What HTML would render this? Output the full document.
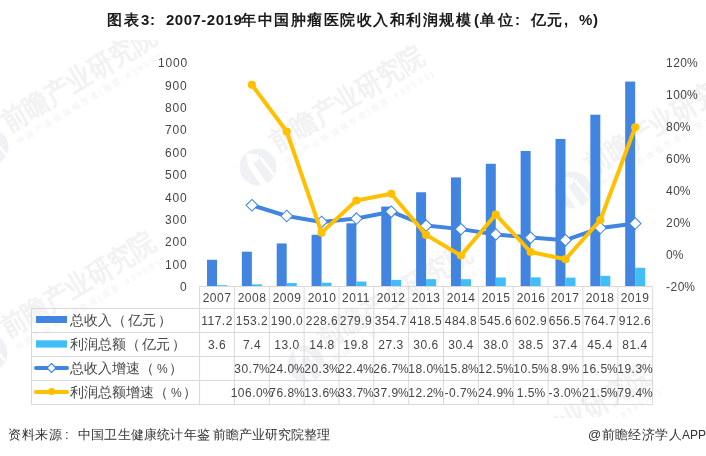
<!DOCTYPE html><html><head><meta charset="utf-8"><style>
html,body{margin:0;padding:0;background:#fff;}
body{width:706px;height:456px;position:relative;overflow:hidden;font-family:"Liberation Sans",sans-serif;}
.t{position:absolute;white-space:nowrap;line-height:1;will-change:transform;}
.n{font-size:12px;color:#454545;letter-spacing:0.5px;}
.p{letter-spacing:0;margin-left:-0.5px;}
.ti{position:absolute;white-space:nowrap;line-height:1;will-change:transform;top:12px;font-size:15px;color:#1a1a1a;}
.b{font-weight:bold;}
.wm{position:absolute;left:0;top:40px;width:706px;height:378px;overflow:hidden;}
.wt{position:absolute;white-space:nowrap;line-height:1;font-weight:bold;font-size:28px;letter-spacing:0.4px;color:#f2f2f2;transform-origin:0 0;}
.ws{position:absolute;white-space:nowrap;line-height:1;font-size:8px;letter-spacing:2.6px;color:#f2f2f2;transform-origin:0 0;}
</style></head><body>
<div class="wm"><div class="wt" style="left:-3.5px;top:71.6px;transform:rotate(-31deg) scaleX(0.88)">前瞻产业研究院</div><div class="ws" style="left:16.3px;top:98.8px;transform:rotate(-31deg)">中国产业咨询领导者(股票:839599)</div><svg style="position:absolute;left:-30.5px;top:86.5px" width="40" height="40"><circle cx="20" cy="20" r="18.5" fill="#eff1f5"/><path d="M22 10L36 28" stroke="#fff" stroke-width="2.5"/><path d="M8 6L21 8L20 13L15 16L34 44L27 44L11 21L9 13Z" fill="#fff"/></svg><div class="wt" style="left:264.5px;top:91.6px;transform:rotate(-31deg) scaleX(0.88)">前瞻产业研究院</div><div class="ws" style="left:284.3px;top:118.8px;transform:rotate(-31deg)">中国产业咨询领导者(股票:839599)</div><svg style="position:absolute;left:237.5px;top:106.5px" width="40" height="40"><circle cx="20" cy="20" r="18.5" fill="#eff1f5"/><path d="M22 10L36 28" stroke="#fff" stroke-width="2.5"/><path d="M8 6L21 8L20 13L15 16L34 44L27 44L11 21L9 13Z" fill="#fff"/></svg><div class="wt" style="left:579.5px;top:114.6px;transform:rotate(-31deg) scaleX(0.88)">前瞻产业研究院</div><div class="ws" style="left:599.3px;top:141.8px;transform:rotate(-31deg)">中国产业咨询领导者(股票:839599)</div><svg style="position:absolute;left:552.5px;top:129.5px" width="40" height="40"><circle cx="20" cy="20" r="18.5" fill="#eff1f5"/><path d="M22 10L36 28" stroke="#fff" stroke-width="2.5"/><path d="M8 6L21 8L20 13L15 16L34 44L27 44L11 21L9 13Z" fill="#fff"/></svg><div class="wt" style="left:-4.5px;top:277.6px;transform:rotate(-31deg) scaleX(0.88)">前瞻产业研究院</div><div class="ws" style="left:15.3px;top:304.8px;transform:rotate(-31deg)">中国产业咨询领导者(股票:839599)</div><svg style="position:absolute;left:-31.5px;top:292.5px" width="40" height="40"><circle cx="20" cy="20" r="18.5" fill="#eff1f5"/><path d="M22 10L36 28" stroke="#fff" stroke-width="2.5"/><path d="M8 6L21 8L20 13L15 16L34 44L27 44L11 21L9 13Z" fill="#fff"/></svg><div class="wt" style="left:312.5px;top:288.6px;transform:rotate(-31deg) scaleX(0.88)">前瞻产业研究院</div><div class="ws" style="left:332.3px;top:315.8px;transform:rotate(-31deg)">中国产业咨询领导者(股票:839599)</div><svg style="position:absolute;left:285.5px;top:303.5px" width="40" height="40"><circle cx="20" cy="20" r="18.5" fill="#eff1f5"/><path d="M22 10L36 28" stroke="#fff" stroke-width="2.5"/><path d="M8 6L21 8L20 13L15 16L34 44L27 44L11 21L9 13Z" fill="#fff"/></svg><div class="wt" style="left:491.5px;top:410.6px;transform:rotate(-31deg) scaleX(0.88)">前瞻产业研究院</div><div class="ws" style="left:511.3px;top:437.8px;transform:rotate(-31deg)">中国产业咨询领导者(股票:839599)</div><svg style="position:absolute;left:464.5px;top:425.5px" width="40" height="40"><circle cx="20" cy="20" r="18.5" fill="#eff1f5"/><path d="M22 10L36 28" stroke="#fff" stroke-width="2.5"/><path d="M8 6L21 8L20 13L15 16L34 44L27 44L11 21L9 13Z" fill="#fff"/></svg></div>
<div class="ti b" style="left:106.7px;letter-spacing:1.5px;">图表</div>
<div class="ti b" style="left:141.2px;">3</div>
<div class="ti b" style="left:149.8px;">:</div>
<div class="ti b" style="left:165.6px;letter-spacing:0.5px;">2007-2019</div>
<div class="ti b" style="left:241.0px;letter-spacing:1.5px;">年中国肿瘤医院收入和利润规模</div>
<div class="ti b" style="left:473.6px;">(</div>
<div class="ti b" style="left:479.6px;letter-spacing:3px;">单位</div>
<div class="ti b" style="left:514.8px;">:</div>
<div class="ti b" style="left:531.2px;letter-spacing:1px;">亿元</div>
<div class="ti b" style="left:564.3px;">,</div>
<div class="ti b" style="left:579.3px;">%</div>
<div class="ti b" style="left:592.9px;">)</div>
<svg width="706" height="456" style="position:absolute;left:0;top:0">
<rect x="207.02" y="259.75" width="10" height="26.25" fill="#4285e0"/>
<rect x="217.02" y="285.19" width="10" height="0.81" fill="#41bdf8"/>
<rect x="241.87" y="251.68" width="10" height="34.32" fill="#4285e0"/>
<rect x="251.87" y="284.34" width="10" height="1.66" fill="#41bdf8"/>
<rect x="276.72" y="243.44" width="10" height="42.56" fill="#4285e0"/>
<rect x="286.72" y="283.09" width="10" height="2.91" fill="#41bdf8"/>
<rect x="311.56" y="234.79" width="10" height="51.21" fill="#4285e0"/>
<rect x="321.56" y="282.68" width="10" height="3.32" fill="#41bdf8"/>
<rect x="346.41" y="223.30" width="10" height="62.70" fill="#4285e0"/>
<rect x="356.41" y="281.56" width="10" height="4.44" fill="#41bdf8"/>
<rect x="381.25" y="206.55" width="10" height="79.45" fill="#4285e0"/>
<rect x="391.25" y="279.88" width="10" height="6.12" fill="#41bdf8"/>
<rect x="416.10" y="192.26" width="10" height="93.74" fill="#4285e0"/>
<rect x="426.10" y="279.15" width="10" height="6.85" fill="#41bdf8"/>
<rect x="450.95" y="177.40" width="10" height="108.60" fill="#4285e0"/>
<rect x="460.95" y="279.19" width="10" height="6.81" fill="#41bdf8"/>
<rect x="485.79" y="163.79" width="10" height="122.21" fill="#4285e0"/>
<rect x="495.79" y="277.49" width="10" height="8.51" fill="#41bdf8"/>
<rect x="520.64" y="150.95" width="10" height="135.05" fill="#4285e0"/>
<rect x="530.64" y="277.38" width="10" height="8.62" fill="#41bdf8"/>
<rect x="555.48" y="138.94" width="10" height="147.06" fill="#4285e0"/>
<rect x="565.48" y="277.62" width="10" height="8.38" fill="#41bdf8"/>
<rect x="590.33" y="114.71" width="10" height="171.29" fill="#4285e0"/>
<rect x="600.33" y="275.83" width="10" height="10.17" fill="#41bdf8"/>
<rect x="625.18" y="81.58" width="10" height="204.42" fill="#4285e0"/>
<rect x="635.18" y="267.77" width="10" height="18.23" fill="#41bdf8"/>
<polyline points="251.87,205.28 286.72,216.00 321.56,221.92 356.41,218.56 391.25,211.68 426.10,225.60 460.95,229.12 495.79,234.40 530.64,237.60 565.48,240.16 600.33,228.00 635.18,223.52" fill="none" stroke="#4285e0" stroke-width="4" stroke-linejoin="round" stroke-linecap="round"/>
<path d="M251.87 199.48L257.67 205.28L251.87 211.08L246.07 205.28Z" fill="#fff" stroke="#4285e0" stroke-width="1.05"/>
<path d="M286.72 210.20L292.52 216.00L286.72 221.80L280.92 216.00Z" fill="#fff" stroke="#4285e0" stroke-width="1.05"/>
<path d="M321.56 216.12L327.36 221.92L321.56 227.72L315.76 221.92Z" fill="#fff" stroke="#4285e0" stroke-width="1.05"/>
<path d="M356.41 212.76L362.21 218.56L356.41 224.36L350.61 218.56Z" fill="#fff" stroke="#4285e0" stroke-width="1.05"/>
<path d="M391.25 205.88L397.05 211.68L391.25 217.48L385.45 211.68Z" fill="#fff" stroke="#4285e0" stroke-width="1.05"/>
<path d="M426.10 219.80L431.90 225.60L426.10 231.40L420.30 225.60Z" fill="#fff" stroke="#4285e0" stroke-width="1.05"/>
<path d="M460.95 223.32L466.75 229.12L460.95 234.92L455.15 229.12Z" fill="#fff" stroke="#4285e0" stroke-width="1.05"/>
<path d="M495.79 228.60L501.59 234.40L495.79 240.20L489.99 234.40Z" fill="#fff" stroke="#4285e0" stroke-width="1.05"/>
<path d="M530.64 231.80L536.44 237.60L530.64 243.40L524.84 237.60Z" fill="#fff" stroke="#4285e0" stroke-width="1.05"/>
<path d="M565.48 234.36L571.28 240.16L565.48 245.96L559.68 240.16Z" fill="#fff" stroke="#4285e0" stroke-width="1.05"/>
<path d="M600.33 222.20L606.13 228.00L600.33 233.80L594.53 228.00Z" fill="#fff" stroke="#4285e0" stroke-width="1.05"/>
<path d="M635.18 217.72L640.98 223.52L635.18 229.32L629.38 223.52Z" fill="#fff" stroke="#4285e0" stroke-width="1.05"/>
<polyline points="251.87,84.80 286.72,131.52 321.56,232.64 356.41,200.48 391.25,193.76 426.10,234.88 460.95,255.52 495.79,214.56 530.64,252.00 565.48,259.20 600.33,220.00 635.18,127.36" fill="none" stroke="#ffc000" stroke-width="4" stroke-linejoin="round" stroke-linecap="round"/>
<circle cx="251.87" cy="84.80" r="4.1" fill="#ffc000"/>
<circle cx="286.72" cy="131.52" r="4.1" fill="#ffc000"/>
<circle cx="321.56" cy="232.64" r="4.1" fill="#ffc000"/>
<circle cx="356.41" cy="200.48" r="4.1" fill="#ffc000"/>
<circle cx="391.25" cy="193.76" r="4.1" fill="#ffc000"/>
<circle cx="426.10" cy="234.88" r="4.1" fill="#ffc000"/>
<circle cx="460.95" cy="255.52" r="4.1" fill="#ffc000"/>
<circle cx="495.79" cy="214.56" r="4.1" fill="#ffc000"/>
<circle cx="530.64" cy="252.00" r="4.1" fill="#ffc000"/>
<circle cx="565.48" cy="259.20" r="4.1" fill="#ffc000"/>
<circle cx="600.33" cy="220.00" r="4.1" fill="#ffc000"/>
<circle cx="635.18" cy="127.36" r="4.1" fill="#ffc000"/>
<path d="M199.6 286.5H652.6" stroke="#d9d9d9" stroke-width="1"/>
<path d="M31.5 308.5H652.6" stroke="#d9d9d9" stroke-width="1"/>
<path d="M31.5 332.5H652.6" stroke="#d9d9d9" stroke-width="1"/>
<path d="M31.5 356.5H652.6" stroke="#d9d9d9" stroke-width="1"/>
<path d="M31.5 380.5H652.6" stroke="#d9d9d9" stroke-width="1"/>
<path d="M31.5 404.5H652.6" stroke="#d9d9d9" stroke-width="1"/>
<path d="M31.5 308.5V404.5" stroke="#d9d9d9" stroke-width="1"/>
<path d="M199.6 286.5V404.5" stroke="#d9d9d9" stroke-width="1"/>
<path d="M234.4 286.5V404.5" stroke="#d9d9d9" stroke-width="1"/>
<path d="M269.3 286.5V404.5" stroke="#d9d9d9" stroke-width="1"/>
<path d="M304.1 286.5V404.5" stroke="#d9d9d9" stroke-width="1"/>
<path d="M339.0 286.5V404.5" stroke="#d9d9d9" stroke-width="1"/>
<path d="M373.8 286.5V404.5" stroke="#d9d9d9" stroke-width="1"/>
<path d="M408.7 286.5V404.5" stroke="#d9d9d9" stroke-width="1"/>
<path d="M443.5 286.5V404.5" stroke="#d9d9d9" stroke-width="1"/>
<path d="M478.4 286.5V404.5" stroke="#d9d9d9" stroke-width="1"/>
<path d="M513.2 286.5V404.5" stroke="#d9d9d9" stroke-width="1"/>
<path d="M548.1 286.5V404.5" stroke="#d9d9d9" stroke-width="1"/>
<path d="M582.9 286.5V404.5" stroke="#d9d9d9" stroke-width="1"/>
<path d="M617.8 286.5V404.5" stroke="#d9d9d9" stroke-width="1"/>
<path d="M652.6 286.5V404.5" stroke="#d9d9d9" stroke-width="1"/>
<rect x="36" y="316" width="31" height="7" fill="#4285e0"/>
<rect x="36" y="340.3" width="31" height="7.3" fill="#41bdf8"/>
<path d="M36 368H67" stroke="#4285e0" stroke-width="4" stroke-linecap="round"/>
<path d="M51.5 363.5L56 368L51.5 372.5L47 368Z" fill="#fff" stroke="#4285e0" stroke-width="1.2"/>
<path d="M36 392H67" stroke="#ffc000" stroke-width="4" stroke-linecap="round"/>
<circle cx="51.5" cy="391.5" r="3.6" fill="#ffc000"/>
</svg>
<div class="t n" style="right:518.5px;top:281.2px;letter-spacing:0.8px;">0</div>
<div class="t n" style="right:518.5px;top:258.8px;letter-spacing:0.8px;">100</div>
<div class="t n" style="right:518.5px;top:236.4px;letter-spacing:0.8px;">200</div>
<div class="t n" style="right:518.5px;top:214.0px;letter-spacing:0.8px;">300</div>
<div class="t n" style="right:518.5px;top:191.6px;letter-spacing:0.8px;">400</div>
<div class="t n" style="right:518.5px;top:169.2px;letter-spacing:0.8px;">500</div>
<div class="t n" style="right:518.5px;top:146.8px;letter-spacing:0.8px;">600</div>
<div class="t n" style="right:518.5px;top:124.4px;letter-spacing:0.8px;">700</div>
<div class="t n" style="right:518.5px;top:102.0px;letter-spacing:0.8px;">800</div>
<div class="t n" style="right:518.5px;top:79.6px;letter-spacing:0.8px;">900</div>
<div class="t n" style="right:518.5px;top:57.2px;letter-spacing:0.8px;">1000</div>
<div class="t n" style="left:666px;top:280.6px;">-20<span class="p">%</span></div>
<div class="t n" style="left:666px;top:248.6px;">0<span class="p">%</span></div>
<div class="t n" style="left:666px;top:216.6px;">20<span class="p">%</span></div>
<div class="t n" style="left:666px;top:184.6px;">40<span class="p">%</span></div>
<div class="t n" style="left:666px;top:152.6px;">60<span class="p">%</span></div>
<div class="t n" style="left:666px;top:120.6px;">80<span class="p">%</span></div>
<div class="t n" style="left:666px;top:88.6px;">100<span class="p">%</span></div>
<div class="t n" style="left:666px;top:56.6px;">120<span class="p">%</span></div>
<div class="t n" style="left:192.02px;width:50px;text-align:center;top:291.7px;">2007</div>
<div class="t n" style="left:192.02px;width:50px;text-align:center;top:314.7px;">117.2</div>
<div class="t n" style="left:192.02px;width:50px;text-align:center;top:338.7px;">3.6</div>
<div class="t n" style="left:226.87px;width:50px;text-align:center;top:291.7px;">2008</div>
<div class="t n" style="left:226.87px;width:50px;text-align:center;top:314.7px;">153.2</div>
<div class="t n" style="left:226.87px;width:50px;text-align:center;top:338.7px;">7.4</div>
<div class="t n" style="left:226.87px;width:50px;text-align:center;top:362.7px;">30.7<span class="p">%</span></div>
<div class="t n" style="left:226.87px;width:50px;text-align:center;top:386.7px;">106.0<span class="p">%</span></div>
<div class="t n" style="left:261.72px;width:50px;text-align:center;top:291.7px;">2009</div>
<div class="t n" style="left:261.72px;width:50px;text-align:center;top:314.7px;">190.0</div>
<div class="t n" style="left:261.72px;width:50px;text-align:center;top:338.7px;">13.0</div>
<div class="t n" style="left:261.72px;width:50px;text-align:center;top:362.7px;">24.0<span class="p">%</span></div>
<div class="t n" style="left:261.72px;width:50px;text-align:center;top:386.7px;">76.8<span class="p">%</span></div>
<div class="t n" style="left:296.56px;width:50px;text-align:center;top:291.7px;">2010</div>
<div class="t n" style="left:296.56px;width:50px;text-align:center;top:314.7px;">228.6</div>
<div class="t n" style="left:296.56px;width:50px;text-align:center;top:338.7px;">14.8</div>
<div class="t n" style="left:296.56px;width:50px;text-align:center;top:362.7px;">20.3<span class="p">%</span></div>
<div class="t n" style="left:296.56px;width:50px;text-align:center;top:386.7px;">13.6<span class="p">%</span></div>
<div class="t n" style="left:331.41px;width:50px;text-align:center;top:291.7px;">2011</div>
<div class="t n" style="left:331.41px;width:50px;text-align:center;top:314.7px;">279.9</div>
<div class="t n" style="left:331.41px;width:50px;text-align:center;top:338.7px;">19.8</div>
<div class="t n" style="left:331.41px;width:50px;text-align:center;top:362.7px;">22.4<span class="p">%</span></div>
<div class="t n" style="left:331.41px;width:50px;text-align:center;top:386.7px;">33.7<span class="p">%</span></div>
<div class="t n" style="left:366.25px;width:50px;text-align:center;top:291.7px;">2012</div>
<div class="t n" style="left:366.25px;width:50px;text-align:center;top:314.7px;">354.7</div>
<div class="t n" style="left:366.25px;width:50px;text-align:center;top:338.7px;">27.3</div>
<div class="t n" style="left:366.25px;width:50px;text-align:center;top:362.7px;">26.7<span class="p">%</span></div>
<div class="t n" style="left:366.25px;width:50px;text-align:center;top:386.7px;">37.9<span class="p">%</span></div>
<div class="t n" style="left:401.10px;width:50px;text-align:center;top:291.7px;">2013</div>
<div class="t n" style="left:401.10px;width:50px;text-align:center;top:314.7px;">418.5</div>
<div class="t n" style="left:401.10px;width:50px;text-align:center;top:338.7px;">30.6</div>
<div class="t n" style="left:401.10px;width:50px;text-align:center;top:362.7px;">18.0<span class="p">%</span></div>
<div class="t n" style="left:401.10px;width:50px;text-align:center;top:386.7px;">12.2<span class="p">%</span></div>
<div class="t n" style="left:435.95px;width:50px;text-align:center;top:291.7px;">2014</div>
<div class="t n" style="left:435.95px;width:50px;text-align:center;top:314.7px;">484.8</div>
<div class="t n" style="left:435.95px;width:50px;text-align:center;top:338.7px;">30.4</div>
<div class="t n" style="left:435.95px;width:50px;text-align:center;top:362.7px;">15.8<span class="p">%</span></div>
<div class="t n" style="left:435.95px;width:50px;text-align:center;top:386.7px;">-0.7<span class="p">%</span></div>
<div class="t n" style="left:470.79px;width:50px;text-align:center;top:291.7px;">2015</div>
<div class="t n" style="left:470.79px;width:50px;text-align:center;top:314.7px;">545.6</div>
<div class="t n" style="left:470.79px;width:50px;text-align:center;top:338.7px;">38.0</div>
<div class="t n" style="left:470.79px;width:50px;text-align:center;top:362.7px;">12.5<span class="p">%</span></div>
<div class="t n" style="left:470.79px;width:50px;text-align:center;top:386.7px;">24.9<span class="p">%</span></div>
<div class="t n" style="left:505.64px;width:50px;text-align:center;top:291.7px;">2016</div>
<div class="t n" style="left:505.64px;width:50px;text-align:center;top:314.7px;">602.9</div>
<div class="t n" style="left:505.64px;width:50px;text-align:center;top:338.7px;">38.5</div>
<div class="t n" style="left:505.64px;width:50px;text-align:center;top:362.7px;">10.5<span class="p">%</span></div>
<div class="t n" style="left:505.64px;width:50px;text-align:center;top:386.7px;">1.5<span class="p">%</span></div>
<div class="t n" style="left:540.48px;width:50px;text-align:center;top:291.7px;">2017</div>
<div class="t n" style="left:540.48px;width:50px;text-align:center;top:314.7px;">656.5</div>
<div class="t n" style="left:540.48px;width:50px;text-align:center;top:338.7px;">37.4</div>
<div class="t n" style="left:540.48px;width:50px;text-align:center;top:362.7px;">8.9<span class="p">%</span></div>
<div class="t n" style="left:540.48px;width:50px;text-align:center;top:386.7px;">-3.0<span class="p">%</span></div>
<div class="t n" style="left:575.33px;width:50px;text-align:center;top:291.7px;">2018</div>
<div class="t n" style="left:575.33px;width:50px;text-align:center;top:314.7px;">764.7</div>
<div class="t n" style="left:575.33px;width:50px;text-align:center;top:338.7px;">45.4</div>
<div class="t n" style="left:575.33px;width:50px;text-align:center;top:362.7px;">16.5<span class="p">%</span></div>
<div class="t n" style="left:575.33px;width:50px;text-align:center;top:386.7px;">21.5<span class="p">%</span></div>
<div class="t n" style="left:610.18px;width:50px;text-align:center;top:291.7px;">2019</div>
<div class="t n" style="left:610.18px;width:50px;text-align:center;top:314.7px;">912.6</div>
<div class="t n" style="left:610.18px;width:50px;text-align:center;top:338.7px;">81.4</div>
<div class="t n" style="left:610.18px;width:50px;text-align:center;top:362.7px;">19.3<span class="p">%</span></div>
<div class="t n" style="left:610.18px;width:50px;text-align:center;top:386.7px;">79.4<span class="p">%</span></div>
<div class="t" style="left:69.5px;top:313.3px;font-size:14px;color:#454545;">总收入<span style="margin-right:1.5px">（</span>亿元<span style="margin-left:2px">）</span></div>
<div class="t" style="left:69.5px;top:337.3px;font-size:14px;color:#454545;">利润总额<span style="margin-right:1.5px">（</span>亿元<span style="margin-left:2px">）</span></div>
<div class="t" style="left:69.5px;top:361.3px;font-size:14px;color:#454545;">总收入增速<span style="margin-right:1.5px">（</span><span style="font-size:12px;margin:0 -0.8px 0 1.5px">%</span><span style="margin-left:2px">）</span></div>
<div class="t" style="left:69.5px;top:385.3px;font-size:14px;color:#454545;">利润总额增速<span style="margin-right:1.5px">（</span><span style="font-size:12px;margin:0 -0.8px 0 1.5px">%</span><span style="margin-left:2px">）</span></div>
<div class="t" style="left:7.5px;top:428px;font-size:13px;color:#333;letter-spacing:0.7px;">资料来源</div>
<div class="t" style="left:64.6px;top:428px;font-size:13px;color:#333;">:</div>
<div class="t" style="left:78.3px;top:428px;font-size:13px;color:#333;letter-spacing:0.2px;">中国卫生健康统计年鉴</div>
<div class="t" style="left:212.5px;top:428px;font-size:13px;color:#333;">前瞻产业研究院整理</div>
<div class="t" style="left:587.5px;top:428px;font-size:13px;color:#333;letter-spacing:0.4px;">@前瞻经济学人<span style="font-size:12px;letter-spacing:0">APP</span></div>
</body></html>
